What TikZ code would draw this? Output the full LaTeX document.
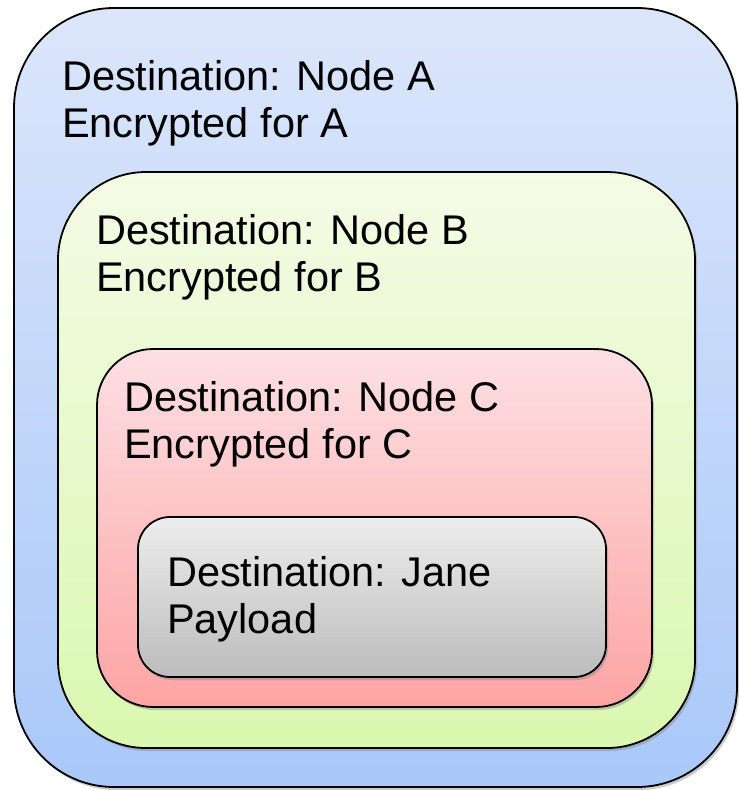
\documentclass[tikz,border=0pt]{standalone}
\usepackage{fontspec}
\setmainfont{Liberation Sans}
\usetikzlibrary{shadows}
\definecolor{aTop}{HTML}{DCE6FB}
\definecolor{aBot}{HTML}{A9C8F9}
\definecolor{bTop}{HTML}{F4FBE6}
\definecolor{bBot}{HTML}{DAF8B0}
\definecolor{cTop}{HTML}{FDE0E3}
\definecolor{cBot}{HTML}{FDA4A4}
\definecolor{dTop}{HTML}{EDEDED}
\definecolor{dBot}{HTML}{BCBCBC}
\tikzset{
  layer/.style={draw=black, line width=1.8pt,
    drop shadow={shadow xshift=2pt, shadow yshift=-3pt, opacity=0.4}},
  label/.style={anchor=base west, align=left, inner sep=0pt,
    font=\fontsize{41.5}{47}\selectfont}
}
\begin{document}
\begin{tikzpicture}[x=1pt,y=-1pt]
\useasboundingbox (0,0) rectangle (739,790);
\path[layer, rounded corners=100pt, top color=aTop, bottom color=aBot] (14,8) rectangle (737,787);
\path[layer, rounded corners=88pt, top color=bTop, bottom color=bBot] (58,172) rectangle (695,748);
\path[layer, rounded corners=56pt, top color=cTop, bottom color=cBot] (97,349) rectangle (652,707);
\path[layer, rounded corners=32pt, top color=dTop, bottom color=dBot] (138,517) rectangle (606,677);
\node[label] (ta) at (62,137) {Destination: Node A\\Encrypted for A};
\node[label] (tb) at (96,291) {Destination: Node B\\Encrypted for B};
\node[label] (tc) at (124,458) {Destination: Node C\\Encrypted for C};
\node[label] (td) at (167,633) {Destination: Jane\\Payload};
\end{tikzpicture}
\end{document}
